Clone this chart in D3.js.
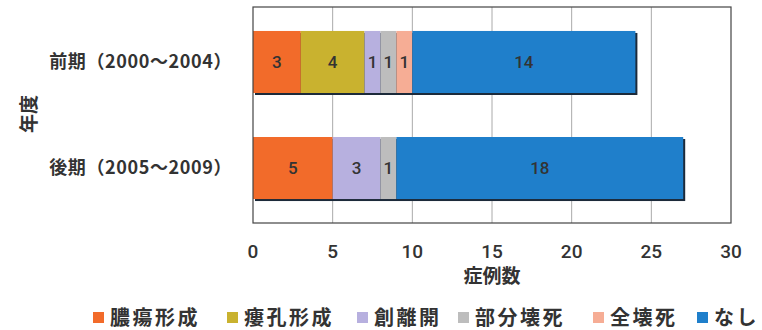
<!DOCTYPE html>
<html>
<head>
<meta charset="utf-8">
<script src="https://cdn.jsdelivr.net/npm/d3@7"></script>
<style>
  body { margin: 0; background: #fff; }
  text { font-family: "Noto Sans CJK JP", sans-serif; fill: #333; }
</style>
</head>
<body>
<svg width="762" height="330"></svg>
<script>
// categories (top to bottom) and series
var periods = ["前期（2000～2004）", "後期（2005～2009）"];
var seriesNames = ["膿瘍形成", "瘻孔形成", "創離開", "部分壊死", "全壊死", "なし"];
var seriesColors = ["#f26b2a", "#c9b22f", "#b7b0df", "#bdbdbd", "#f6ad95", "#1f7fcb"];
var values = [
  [3, 5],   // 膿瘍形成
  [4, 0],   // 瘻孔形成
  [1, 3],   // 創離開
  [1, 1],   // 部分壊死
  [1, 0],   // 全壊死
  [14, 18]  // なし
];
var xTicks = [0, 5, 10, 15, 20, 25, 30];

var svg = d3.select("svg");
var plotL = 253, plotR = 731, plotT = 7, plotB = 223;

var x = d3.scaleLinear().domain([0, 30]).range([plotL, plotR]);
var y = d3.scaleBand().domain(periods).range([plotT, plotB])
  .paddingInner(0.415).paddingOuter(0.226);

// rows of data for stacking
var rows = periods.map(function(p, i) {
  var r = {period: p};
  seriesNames.forEach(function(s, k) { r[s] = values[k][i]; });
  return r;
});
var stacked = d3.stack().keys(seriesNames)(rows);

// grid
svg.append("g").selectAll("line")
  .data(xTicks.slice(1, -1))
  .enter().append("line")
  .attr("x1", function(d) { return x(d); })
  .attr("x2", function(d) { return x(d); })
  .attr("y1", plotT).attr("y2", plotB)
  .attr("stroke", "#aaa").attr("stroke-width", 1);

// bar shadows
svg.append("g").selectAll("rect")
  .data(rows)
  .enter().append("rect")
  .attr("x", x(0) + 2)
  .attr("y", function(d) { return y(d.period) + 2; })
  .attr("width", function(d) { return x(d3.sum(seriesNames, function(s) { return d[s]; })) - x(0); })
  .attr("height", y.bandwidth())
  .attr("fill", "#1c2a3a");

// segments
var layer = svg.append("g").selectAll("g")
  .data(stacked)
  .enter().append("g")
  .attr("fill", function(d, i) { return seriesColors[i]; });

layer.selectAll("rect")
  .data(function(d) { return d.filter(function(e) { return e[1] > e[0]; }); })
  .enter().append("rect")
  .attr("x", function(d) { return x(d[0]); })
  .attr("y", function(d) { return y(d.data.period); })
  .attr("width", function(d) { return x(d[1]) - x(d[0]); })
  .attr("height", y.bandwidth());

layer.selectAll("text")
  .data(function(d) { return d.filter(function(e) { return e[1] > e[0]; }); })
  .enter().append("text")
  .attr("x", function(d) { return (x(d[0]) + x(d[1])) / 2; })
  .attr("y", function(d) { return y(d.data.period) + y.bandwidth() / 2; })
  .attr("dy", "0.36em")
  .attr("text-anchor", "middle")
  .style("font-size", "17px")
  .style("font-family", "Roboto, sans-serif")
  .style("font-weight", "500")
  .text(function(d) { return d[1] - d[0]; });

// frame
svg.append("rect")
  .attr("x", plotL).attr("y", plotT)
  .attr("width", plotR - plotL).attr("height", plotB - plotT)
  .attr("fill", "none").attr("stroke", "#444").attr("stroke-width", 1.2);

// x tick labels
svg.append("g").selectAll("text")
  .data(xTicks)
  .enter().append("text")
  .attr("x", function(d) { return x(d); })
  .attr("y", 251)
  .attr("dy", "0.36em")
  .attr("text-anchor", "middle")
  .style("font-size", "19px")
  .style("font-family", "Roboto, sans-serif")
  .style("font-weight", "500")
  .text(function(d) { return d; });

svg.append("text")
  .attr("x", x(15)).attr("y", 276)
  .attr("dy", "0.36em")
  .attr("text-anchor", "middle")
  .style("font-size", "19px")
  .style("font-weight", "bold")
  .text("症例数");

// category labels
svg.append("g").selectAll("text")
  .data(periods)
  .enter().append("text")
  .attr("x", 232)
  .attr("y", function(d) { return y(d) + y.bandwidth() / 2; })
  .attr("dy", "0.36em")
  .attr("text-anchor", "end")
  .style("font-size", "18px")
  .style("font-weight", "bold")
  .style("letter-spacing", "0.6px")
  .text(function(d) { return d; });

svg.append("text")
  .attr("transform", "translate(29,114) rotate(-90)")
  .attr("dy", "0.36em")
  .attr("text-anchor", "middle")
  .style("font-size", "19px")
  .style("font-weight", "bold")
  .text("年度");

// legend
var legendX = [93, 227, 357, 458, 593, 697];
var leg = svg.append("g").selectAll("g")
  .data(seriesNames)
  .enter().append("g")
  .attr("transform", function(d, i) { return "translate(" + legendX[i] + ",318)"; });
leg.append("rect")
  .attr("x", 0).attr("y", -6)
  .attr("width", 11).attr("height", 11)
  .attr("fill", function(d, i) { return seriesColors[i]; });
leg.append("text")
  .attr("x", 17).attr("dy", "0.36em")
  .style("font-size", "20px")
  .style("font-weight", "bold")
  .style("letter-spacing", "2.5px")
  .text(function(d) { return d; });
</script>
</body>
</html>
